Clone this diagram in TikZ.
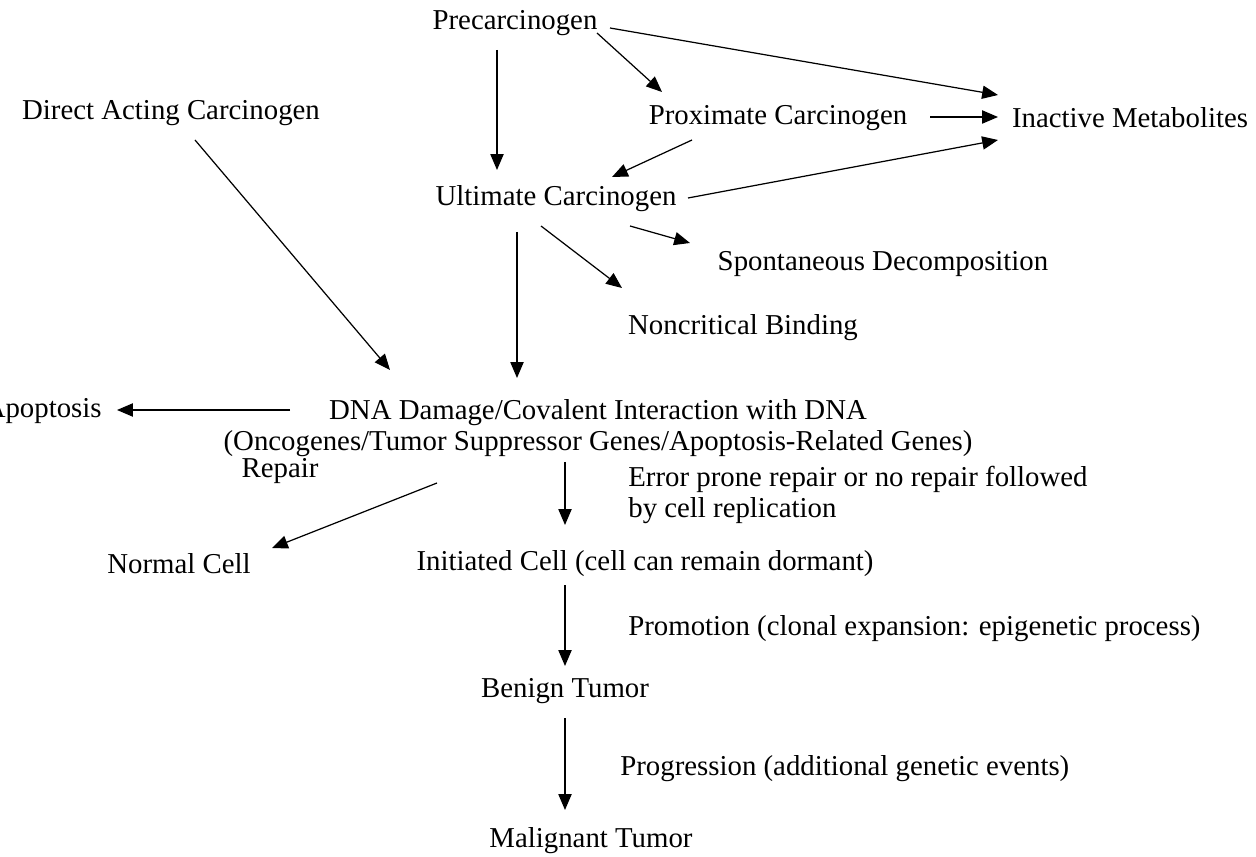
\documentclass[tikz,border=0pt]{standalone}
\usepackage{fontspec}
\setmainfont{Liberation Serif}
\usetikzlibrary{arrows.meta,calc}

\tikzset{
  lbl/.style={inner sep=0pt, font=\fontsize{16.4}{18}\selectfont},
  flow/.style={-{Triangle[length=9pt,width=7.5pt]}, line width=0.7pt},
}

\begin{document}
\begin{tikzpicture}[x=0.02cm,y=-0.02cm]
  \useasboundingbox (0,0) rectangle (1256,857);

  % Activation of the carcinogen
  \node[lbl] (pre) at (515,23) {Precarcinogen};
  \node[lbl] (direct) at (171,113) {Direct Acting Carcinogen};
  \node[lbl] (prox) at (778,118) {Proximate Carcinogen};
  \node[lbl] (inact) at (1130,118) {Inactive Metabolites};
  \node[lbl] (ult) at (556,199) {Ultimate Carcinogen};
  \node[lbl] (spont) at (883,264) {Spontaneous Decomposition};
  \node[lbl] (noncrit) at (743,328) {Noncritical Binding};

  % DNA level
  \node[lbl, align=center] (dna) at (598,428) {DNA Damage/Covalent Interaction with DNA\\(Oncogenes/Tumor Suppressor Genes/Apoptosis-Related Genes)};
  \node[lbl, anchor=east] (apop) at (102,411) {Apoptosis};
  \node[lbl] (repair) at (280,471) {Repair};
  \node[lbl, anchor=west, align=left] (error) at (628,495) {Error prone repair or no repair followed\\by cell replication};
  \node[lbl] (normal) at (179,564) {Normal Cell};
  \node[lbl] (init) at (645,564) {Initiated Cell (cell can remain dormant)};

  % Tumour stages
  \node[lbl, anchor=west] (promo) at (628,629) {Promotion (clonal expansion: epigenetic process)};
  \node[lbl] (benign) at (565,691) {Benign Tumor};
  \node[lbl, anchor=west] (progr) at (620,769) {Progression (additional genetic events)};
  \node[lbl] (malig) at (591,841) {Malignant Tumor};

  % Arrows
  \draw[flow] ($(pre)+(-18,27)$) -- ($(ult)+(-59,-29)$);
  \draw[flow] ($(pre)+(82,10)$) -- ($(prox)+(-116,-26)$);
  \draw[flow] ($(pre)+(95,5)$) -- ($(inact)+(-132,-23)$);
  \draw[flow] ($(prox)+(152,-1)$) -- ($(inact)+(-132,-1)$);
  \draw[flow] ($(prox)+(-86,22)$) -- ($(ult)+(56,-22)$);
  \draw[flow] ($(ult)+(132,-1)$) -- ($(inact)+(-132,22)$);
  \draw[flow] ($(ult)+(74,27)$) -- ($(spont)+(-193,-21)$);
  \draw[flow] ($(ult)+(-15,27)$) -- ($(noncrit)+(-121,-40)$);
  \draw[flow] ($(ult)+(-39,33)$) -- ($(dna)+(-81,-50)$);
  \draw[flow] ($(direct)+(24,27)$) -- ($(dna)+(-208,-58)$);
  \draw[flow] ($(dna)+(-308,-18)$) -- ($(apop.east)+(15,-1)$);
  \draw[flow] ($(dna)+(-161,55)$) -- ($(normal)+(93,-16)$);
  \draw[flow] ($(dna)+(-33,34)$) -- ($(init)+(-80,-39)$);
  \draw[flow] ($(init)+(-80,21)$) -- ($(benign)+(0,-25)$);
  \draw[flow] ($(benign)+(0,27)$) -- ($(malig)+(-26,-31)$);
\end{tikzpicture}
\end{document}
